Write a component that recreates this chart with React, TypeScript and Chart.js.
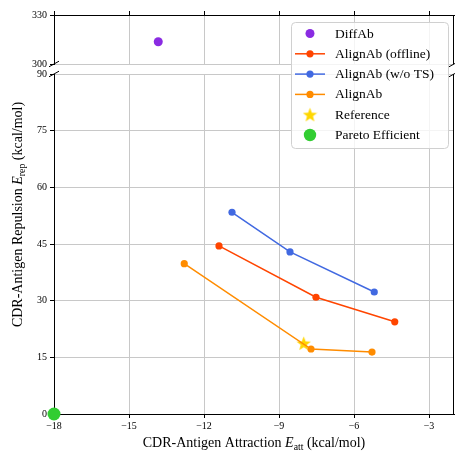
import React, { useEffect, useRef } from 'react';
import { Chart, registerables } from 'chart.js';
Chart.register(...registerables);

// ---- data ----
const xTickValues = [-18, -15, -12, -9, -6, -3];
const yTickBottom = [0, 15, 30, 45, 60, 75, 90];
const yTickTop = [300, 330];

const diffAbX = [-13.83];
const diffAbY = [313.6];
const offlineX = [-11.4, -7.52, -4.37];
const offlineY = [44.5, 30.9, 24.4];
const woTsX = [-10.88, -8.56, -5.19];
const woTsY = [53.4, 42.9, 32.3];
const alignX = [-12.79, -7.72, -5.28];
const alignY = [39.8, 17.2, 16.4];
const referenceX = [-8.01];
const referenceY = [18.7];
const paretoX = [-18];
const paretoY = [0];

const seriesLabels = ['DiffAb', 'AlignAb (offline)', 'AlignAb (w/o TS)', 'AlignAb', 'Reference', 'Pareto Efficient'];
const seriesColors = ['#8a2be2', '#ff4500', '#4169e1', '#ff8c00', '#ffd700', '#32cd32'];

const SERIF = '"Liberation Serif", "DejaVu Serif", serif';
const GRID = '#c8c8c8';

const pts = (xs: number[], ys: number[]) => xs.map((x, i) => ({ x, y: ys[i] }));
const fmt = (v: number) => (v < 0 ? '\u2212' + Math.abs(v) : String(v));

function makeStar(size: number, color: string) {
  const c = document.createElement('canvas');
  c.width = size;
  c.height = size;
  const ctx = c.getContext('2d')!;
  ctx.fillStyle = color;
  ctx.beginPath();
  const cx = size / 2, cy = size / 2 + 0.6, R = size / 2, r = R * 0.42;
  for (let i = 0; i < 10; i++) {
    const a = -Math.PI / 2 + (i * Math.PI) / 5;
    const rad = i % 2 ? r : R;
    ctx.lineTo(cx + rad * Math.cos(a), cy + rad * Math.sin(a));
  }
  ctx.closePath();
  ctx.fill();
  return c;
}

type Part = { t: string; italic?: boolean; sub?: boolean };
function drawRich(ctx: CanvasRenderingContext2D, parts: Part[], cx: number, cy: number, size: number) {
  const fontOf = (p: Part) => `${p.italic ? 'italic ' : ''}${p.sub ? size * 0.7 : size}px ${SERIF}`;
  let total = 0;
  const widths = parts.map((p) => {
    ctx.font = fontOf(p);
    const w = ctx.measureText(p.t).width;
    total += w;
    return w;
  });
  let x = cx - total / 2;
  ctx.textBaseline = 'alphabetic';
  ctx.textAlign = 'left';
  ctx.fillStyle = '#000';
  parts.forEach((p, i) => {
    ctx.font = fontOf(p);
    ctx.fillText(p.t, x, cy + (p.sub ? size * 0.2 : 0));
    x += widths[i];
  });
}

const xTitle: Part[] = [{ t: 'CDR-Antigen Attraction ' }, { t: 'E', italic: true }, { t: 'att', sub: true }, { t: ' (kcal/mol)' }];
const yTitle: Part[] = [{ t: 'CDR-Antigen Repulsion ' }, { t: 'E', italic: true }, { t: 'rep', sub: true }, { t: ' (kcal/mol)' }];

function lineDs(label: string, color: string, xs: number[], ys: number[]) {
  return {
    label,
    data: pts(xs, ys),
    showLine: true,
    borderColor: color,
    backgroundColor: color,
    borderWidth: 1.5,
    pointRadius: 3.6,
    pointBorderWidth: 0,
    pointBackgroundColor: color,
  };
}

const fitX = (h: number) => (s: any) => {
  s.height = h;
  s.paddingLeft = 0;
  s.paddingRight = 0;
  s.paddingTop = 0;
  s.paddingBottom = 0;
};
const fitY = (w: number) => (s: any) => {
  s.width = w;
  s.paddingLeft = 0;
  s.paddingRight = 0;
  s.paddingTop = 0;
  s.paddingBottom = 0;
};

export default function App() {
  const bottomRef = useRef<HTMLCanvasElement>(null);
  const topRef = useRef<HTMLCanvasElement>(null);

  useEffect(() => {
    const star = makeStar(15, seriesColors[4]);

    const tickFont = { family: SERIF, size: 10 };

    const bottomPlugin = {
      id: 'bottomDecor',
      beforeDatasetsDraw(chart: any) {
        const { ctx, chartArea } = chart;
        ctx.save();
        ctx.strokeStyle = '#000';
        ctx.lineWidth = 1;
        ctx.beginPath();
        ctx.moveTo(Math.round(chartArea.right) - 0.5, chartArea.top);
        ctx.lineTo(Math.round(chartArea.right) - 0.5, chartArea.bottom);
        ctx.stroke();
        ctx.restore();
      },
      afterDraw(chart: any) {
        const { ctx, chartArea } = chart;
        ctx.save();
        drawRich(ctx, xTitle, (chartArea.left + chartArea.right) / 2, 447, 14);
        ctx.translate(22, 214.5);
        ctx.rotate(-Math.PI / 2);
        drawRich(ctx, yTitle, 0, 0, 14);
        ctx.restore();
      },
    };

    const bottom = new Chart(bottomRef.current!, {
      type: 'scatter',
      data: {
        datasets: [
          { ...lineDs(seriesLabels[1], seriesColors[1], offlineX, offlineY), order: 3 },
          { ...lineDs(seriesLabels[2], seriesColors[2], woTsX, woTsY), order: 2 },
          { ...lineDs(seriesLabels[3], seriesColors[3], alignX, alignY), order: 0 },
          {
            label: seriesLabels[4],
            data: pts(referenceX, referenceY),
            pointStyle: star as any,
            pointRadius: 7,
            order: 1,
          },
          {
            label: seriesLabels[5],
            data: pts(paretoX, paretoY),
            backgroundColor: seriesColors[5],
            pointBackgroundColor: seriesColors[5],
            pointBorderWidth: 0,
            pointRadius: 6.5,
            clip: false as any,
            order: -1,
          },
        ] as any,
      },
      options: {
        animation: false,
        responsive: false,
        devicePixelRatio: 1,
        layout: { autoPadding: false, padding: { top: 74, left: 0, right: 1, bottom: 0 } },
        plugins: { legend: { display: false }, tooltip: { enabled: false } },
        scales: {
          x: {
            type: 'linear',
            min: -18,
            max: -2,
            position: 'bottom',
            afterBuildTicks: (s: any) => {
              s.ticks = xTickValues.map((v) => ({ value: v }));
            },
            afterFit: fitX(37),
            grid: { color: GRID, lineWidth: 1, drawTicks: true, tickLength: 4, tickColor: '#000', tickWidth: 1 },
            border: { display: true, color: '#000', width: 1 },
            ticks: { font: tickFont, color: '#000', padding: 2, maxRotation: 0, autoSkip: false, callback: (v: any) => fmt(Number(v)) },
          },
          y: {
            type: 'linear',
            min: 0,
            max: 90,
            afterBuildTicks: (s: any) => {
              s.ticks = yTickBottom.map((v) => ({ value: v }));
            },
            afterFit: fitY(54),
            grid: { color: GRID, lineWidth: 1, drawTicks: true, tickLength: 4, tickColor: '#000', tickWidth: 1 },
            border: { display: true, color: '#000', width: 1 },
            ticks: { font: tickFont, color: '#000', padding: 3, autoSkip: false, callback: (v: any) => fmt(Number(v)) },
          },
        },
      } as any,
      plugins: [bottomPlugin],
    });

    const topPlugin = {
      id: 'topDecor',
      beforeDatasetsDraw(chart: any) {
        const { ctx, chartArea } = chart;
        ctx.save();
        ctx.strokeStyle = '#000';
        ctx.lineWidth = 1;
        ctx.beginPath();
        ctx.moveTo(Math.round(chartArea.right) - 0.5, chartArea.top);
        ctx.lineTo(Math.round(chartArea.right) - 0.5, chartArea.bottom);
        ctx.stroke();
        ctx.restore();
      },
      afterDraw(chart: any) {
        const { ctx, chartArea } = chart;
        const bArea = bottom.chartArea;
        ctx.save();
        // break marks
        ctx.strokeStyle = '#000';
        ctx.lineWidth = 1;
        const marks = [
          [chartArea.left, chartArea.bottom],
          [chartArea.right, chartArea.bottom],
          [bArea.left, bArea.top],
          [bArea.right, bArea.top],
        ];
        marks.forEach(([x, y]) => {
          ctx.beginPath();
          ctx.moveTo(x - 5, y + 2.8);
          ctx.lineTo(x + 5, y - 2.8);
          ctx.stroke();
        });
        // legend
        const lx = 291, ly = 22, lw = 157, lh = 126;
        ctx.beginPath();
        (ctx as any).roundRect(lx + 0.5, ly + 0.5, lw, lh, 4);
        ctx.fillStyle = 'rgba(255,255,255,0.8)';
        ctx.fill();
        ctx.strokeStyle = '#d0d0d0';
        ctx.stroke();
        const rowY = (i: number) => 33.5 + i * 20.3;
        const mx = 310;
        ctx.font = `13.5px ${SERIF}`;
        ctx.textBaseline = 'middle';
        ctx.textAlign = 'left';
        seriesLabels.forEach((label, i) => {
          const y = rowY(i);
          const col = seriesColors[i];
          if (i >= 1 && i <= 3) {
            ctx.strokeStyle = col;
            ctx.lineWidth = 1.5;
            ctx.beginPath();
            ctx.moveTo(295, y);
            ctx.lineTo(325, y);
            ctx.stroke();
            ctx.fillStyle = col;
            ctx.beginPath();
            ctx.arc(mx, y, 3.6, 0, Math.PI * 2);
            ctx.fill();
          } else if (i === 0) {
            ctx.fillStyle = col;
            ctx.beginPath();
            ctx.arc(mx, y, 4.5, 0, Math.PI * 2);
            ctx.fill();
          } else if (i === 4) {
            ctx.drawImage(star, mx - 7.5, y - 7.5);
          } else {
            ctx.fillStyle = col;
            ctx.beginPath();
            ctx.arc(mx, y, 6.2, 0, Math.PI * 2);
            ctx.fill();
          }
          ctx.fillStyle = '#000';
          ctx.fillText(label, 335, y + 0.5);
        });
        ctx.restore();
      },
    };

    const top = new Chart(topRef.current!, {
      type: 'scatter',
      data: {
        datasets: [
          {
            label: seriesLabels[0],
            data: pts(diffAbX, diffAbY),
            backgroundColor: seriesColors[0],
            pointBackgroundColor: seriesColors[0],
            pointBorderWidth: 0,
            pointRadius: 4.5,
          },
        ] as any,
      },
      options: {
        animation: false,
        responsive: false,
        devicePixelRatio: 1,
        layout: { autoPadding: false, padding: { top: 11, left: 0, right: 1, bottom: 387 } },
        plugins: { legend: { display: false }, tooltip: { enabled: false } },
        scales: {
          x: {
            type: 'linear',
            min: -18,
            max: -2,
            position: 'top',
            afterBuildTicks: (s: any) => {
              s.ticks = xTickValues.map((v) => ({ value: v }));
            },
            afterFit: fitX(4),
            grid: { color: GRID, lineWidth: 1, drawTicks: true, tickLength: 4, tickColor: '#000', tickWidth: 1 },
            border: { display: true, color: '#000', width: 1 },
            ticks: { display: false },
          },
          y: {
            type: 'linear',
            min: 300,
            max: 330,
            afterBuildTicks: (s: any) => {
              s.ticks = yTickTop.map((v) => ({ value: v }));
            },
            afterFit: fitY(54),
            grid: { color: GRID, lineWidth: 1, drawTicks: true, tickLength: 4, tickColor: '#000', tickWidth: 1 },
            border: { display: true, color: '#000', width: 1 },
            ticks: { font: tickFont, color: '#000', padding: 3, autoSkip: false, callback: (v: any) => fmt(Number(v)) },
          },
        },
      } as any,
      plugins: [topPlugin],
    });

    return () => {
      top.destroy();
      bottom.destroy();
    };
  }, []);

  return (
    <div style={{ position: 'absolute', left: 0, top: 0, width: 455, height: 451, background: '#fff' }}>
      <canvas ref={bottomRef} width={455} height={451} style={{ position: 'absolute', left: 0, top: 0 }} />
      <canvas ref={topRef} width={455} height={451} style={{ position: 'absolute', left: 0, top: 0, pointerEvents: 'none' }} />
    </div>
  );
}
